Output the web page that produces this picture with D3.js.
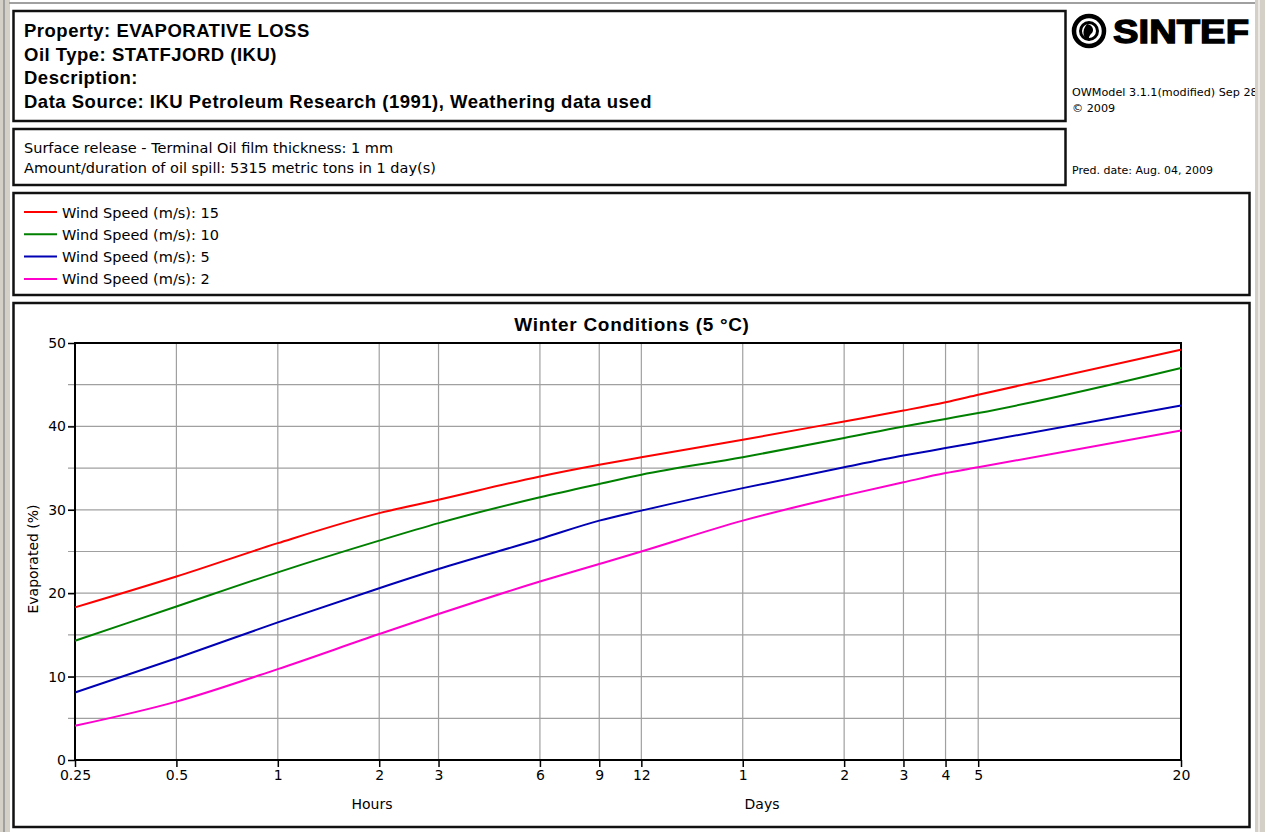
<!DOCTYPE html>
<html>
<head>
<meta charset="utf-8">
<script src="https://cdn.jsdelivr.net/npm/d3@7"></script>
<style>
  body { margin: 0; background: #fff; }
  svg { display: block; font-family: "DejaVu Sans", Arial, sans-serif; }
</style>
</head>
<body>
<div id="chart"></div>
<script>
// time in hours at each sample / tick
var hours = [0.25, 0.5, 1, 2, 3, 6, 9, 12, 24, 48, 72, 96, 120, 480];
var tickLabels = ["0.25", "0.5", "1", "2", "3", "6", "9", "12", "1", "2", "3", "4", "5", "20"];
var yTicks = [0, 5, 10, 15, 20, 25, 30, 35, 40, 45, 50];

var ws15 = [18.3, 22.0, 26.0, 29.6, 31.2, 34.0, 35.4, 36.3, 38.4, 40.6, 41.9, 42.9, 43.8, 49.2];
var ws10 = [14.3, 18.4, 22.5, 26.3, 28.4, 31.5, 33.1, 34.2, 36.3, 38.6, 40.0, 40.9, 41.6, 47.0];
var ws5  = [8.1, 12.2, 16.5, 20.6, 22.9, 26.5, 28.7, 29.9, 32.6, 35.1, 36.5, 37.4, 38.1, 42.5];
var ws2  = [4.1, 7.0, 10.9, 15.1, 17.5, 21.4, 23.5, 25.0, 28.7, 31.7, 33.3, 34.4, 35.1, 39.5];

var seriesNames = ["Wind Speed (m/s): 15", "Wind Speed (m/s): 10", "Wind Speed (m/s): 5", "Wind Speed (m/s): 2"];
var seriesColors = ["#ff0000", "#008000", "#0000b4", "#ff00cc"];
var seriesValues = [ws15, ws10, ws5, ws2];

var W = 1265, H = 832;
var svg = d3.select("#chart").append("svg").attr("width", W).attr("height", H);

// boxes
function box(x, y, w, h) {
  svg.append("rect").attr("x", x).attr("y", y).attr("width", w).attr("height", h)
    .attr("fill", "none").attr("stroke", "#111").attr("stroke-width", 2.5);
}
box(13.5, 11, 1052, 110);
box(13.5, 129, 1052, 56);
box(13.5, 193, 1236, 102);
box(13.5, 303, 1236, 524);

// header text
var hdr = ["Property: EVAPORATIVE LOSS", "Oil Type: STATFJORD (IKU)", "Description:",
  "Data Source: IKU Petroleum Research (1991), Weathering data used"];
svg.selectAll(".hdr").data(hdr).enter().append("text")
  .attr("x", 24).attr("y", function(d, i) { return 37 + i * 23.5; })
  .attr("font-family", "Arial, 'Liberation Sans', sans-serif")
  .attr("font-size", 18.5).attr("font-weight", "bold").attr("letter-spacing", 0.5)
  .text(function(d) { return d; });

var info = ["Surface release - Terminal Oil film thickness: 1 mm",
  "Amount/duration of oil spill: 5315 metric tons in 1 day(s)"];
svg.selectAll(".info").data(info).enter().append("text")
  .attr("x", 24).attr("y", function(d, i) { return 153 + i * 20; })
  .attr("font-size", 14.5).text(function(d) { return d; });

// logo
var logo = svg.append("g").attr("transform", "translate(1089,31)");
logo.append("circle").attr("r", 15).attr("fill", "none").attr("stroke", "#000").attr("stroke-width", 4.5);
logo.append("circle").attr("r", 8.5).attr("fill", "none").attr("stroke", "#000").attr("stroke-width", 3);
logo.append("path").attr("d", "M-2,-7 C4,-6 6,0 2,3 C0,5 -1,8 1,10 C-6,8 -8,0 -2,-7Z").attr("fill", "#000");
svg.append("text").attr("x", 1113).attr("y", 43).attr("font-size", 33).attr("font-weight", "bold")
  .attr("font-family", "Arial, 'Liberation Sans', sans-serif")
  .attr("stroke", "#000").attr("stroke-width", 1.3)
  .attr("textLength", 136).attr("lengthAdjust", "spacingAndGlyphs").text("SINTEF");
svg.append("text").attr("x", 1072).attr("y", 96).attr("font-size", 11.2).text("OWModel 3.1.1(modified) Sep 28");
svg.append("text").attr("x", 1072).attr("y", 112).attr("font-size", 11.2).text("\u00a9 2009");
svg.append("text").attr("x", 1072).attr("y", 174).attr("font-size", 11).text("Pred. date: Aug. 04, 2009");

// window chrome (drawn over the clipped header text)
svg.append("rect").attr("x", 0).attr("y", 0).attr("width", 10).attr("height", H).attr("fill", "#d4d0c8");
svg.append("rect").attr("x", 3).attr("y", 0).attr("width", 2).attr("height", H).attr("fill", "#a0a0a0");
svg.append("rect").attr("x", 1255).attr("y", 0).attr("width", 10).attr("height", H).attr("fill", "#d4d0c8");
svg.append("rect").attr("x", 1258).attr("y", 0).attr("width", 2).attr("height", H).attr("fill", "#ece9e4");
svg.append("rect").attr("x", 9).attr("y", 2).attr("width", 1246).attr("height", 2).attr("fill", "#a0a0a0");

// legend
var leg = svg.selectAll(".leg").data(seriesNames).enter().append("g")
  .attr("transform", function(d, i) { return "translate(0," + (212 + i * 22.3) + ")"; });
leg.append("line").attr("x1", 24).attr("x2", 57).attr("y1", 0).attr("y2", 0)
  .attr("stroke", function(d, i) { return seriesColors[i]; }).attr("stroke-width", 2);
leg.append("text").attr("x", 62).attr("y", 5.5).attr("font-size", 14.5).text(function(d) { return d; });

// plot
var x = d3.scaleLog().domain([0.25, 480]).range([75, 1181]);
var y = d3.scaleLinear().domain([0, 50]).range([760, 343]);

svg.append("text").attr("x", 632).attr("y", 331).attr("text-anchor", "middle")
  .attr("font-family", "Arial, 'Liberation Sans', sans-serif")
  .attr("font-size", 19).attr("font-weight", "bold").attr("letter-spacing", 0.7)
  .text("Winter Conditions (5 \u00b0C)");

// grid
svg.selectAll(".gx").data(hours.slice(1, -1)).enter().append("line")
  .attr("x1", function(d) { return x(d); }).attr("x2", function(d) { return x(d); })
  .attr("y1", 343).attr("y2", 760).attr("stroke", "#a0a0a0").attr("stroke-width", 1.2);
svg.selectAll(".gy").data(yTicks.slice(1, -1)).enter().append("line")
  .attr("x1", 68).attr("x2", 1181)
  .attr("y1", function(d) { return y(d); }).attr("y2", function(d) { return y(d); })
  .attr("stroke", "#a0a0a0").attr("stroke-width", 1.2);

// y axis
var yAxis = d3.axisLeft(y).tickValues([0, 10, 20, 30, 40, 50]).tickSize(7).tickPadding(2);
var gy = svg.append("g").attr("transform", "translate(75,0)").call(yAxis);
gy.select(".domain").remove();
gy.selectAll("line").attr("stroke", "#000").attr("stroke-width", 1.5);
gy.selectAll("text").attr("font-size", 14).attr("font-family", "DejaVu Sans, sans-serif").attr("fill", "#000");

// x axis
var xAxis = d3.axisBottom(x).tickValues(hours).tickSize(7).tickPadding(3)
  .tickFormat(function(d, i) { return tickLabels[i]; });
var gx = svg.append("g").attr("transform", "translate(0,760)").call(xAxis);
gx.select(".domain").remove();
gx.selectAll("line").attr("stroke", "#000").attr("stroke-width", 1.5);
gx.selectAll("text").attr("font-size", 14).attr("font-family", "DejaVu Sans, sans-serif").attr("fill", "#000");

svg.append("text").attr("x", 372).attr("y", 809).attr("text-anchor", "middle").attr("font-size", 14).text("Hours");
svg.append("text").attr("x", 762).attr("y", 809).attr("text-anchor", "middle").attr("font-size", 14).text("Days");
svg.append("text").attr("transform", "translate(38,559) rotate(-90)").attr("text-anchor", "middle")
  .attr("font-size", 14).text("Evaporated (%)");

// frame
svg.append("rect").attr("x", 75).attr("y", 343).attr("width", 1106).attr("height", 417)
  .attr("fill", "none").attr("stroke", "#000").attr("stroke-width", 2);

// lines
var line = d3.line()
  .x(function(d, i) { return x(hours[i]); })
  .y(function(d) { return y(d); })
  .curve(d3.curveMonotoneX);
svg.selectAll(".series").data(seriesValues).enter().append("path")
  .attr("d", line).attr("fill", "none")
  .attr("stroke", function(d, i) { return seriesColors[i]; }).attr("stroke-width", 2);
</script>
</body>
</html>
